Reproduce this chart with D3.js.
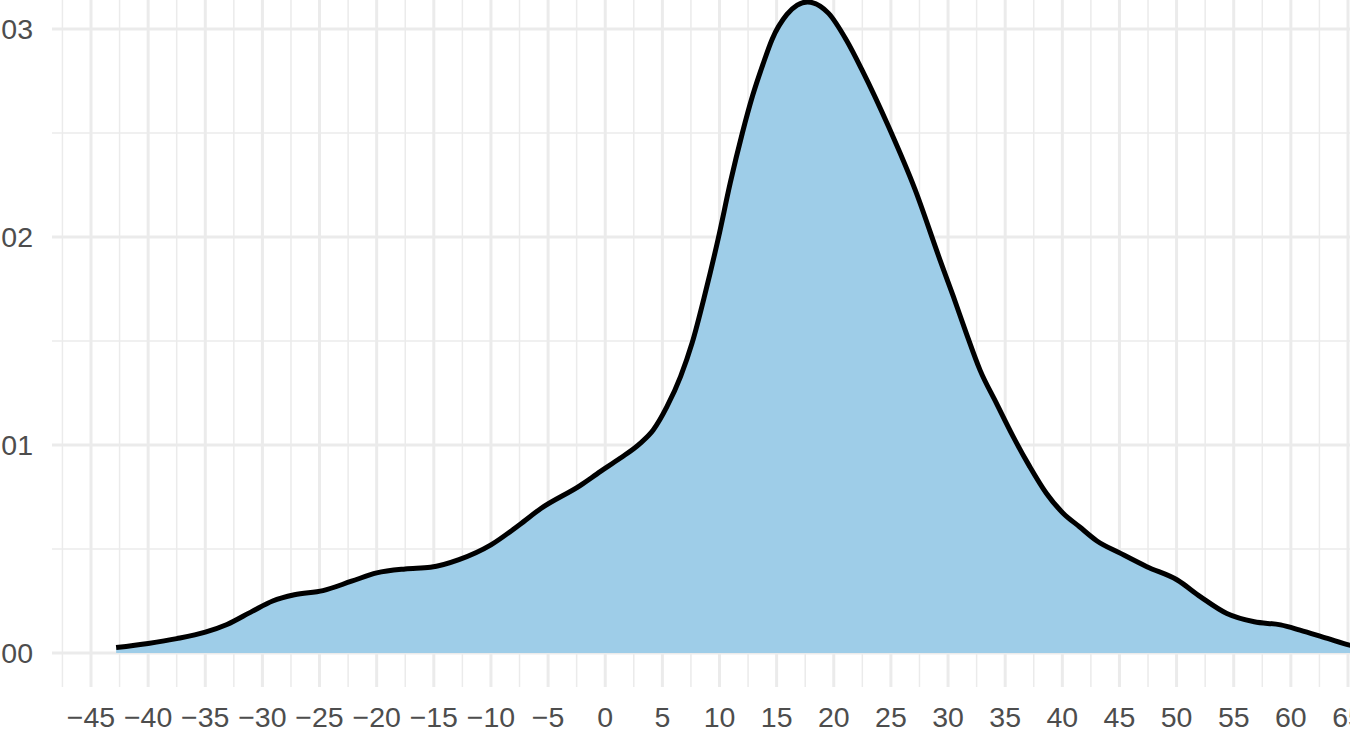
<!DOCTYPE html>
<html>
<head>
<meta charset="utf-8">
<script src="https://cdn.jsdelivr.net/npm/d3@7/dist/d3.min.js"></script>
<style>
  html, body { margin: 0; padding: 0; background: #fff; overflow: hidden; }
  svg { display: block; }
</style>
</head>
<body>
<svg id="chart" width="1350" height="733"></svg>
<script>
// density estimate (x value, density)
var xValues = [-42.8, -40, -37.5, -35, -33.1, -30.9, -29.1, -27.2, -24.7, -22.2, -20, -17.5, -15.3, -12.8, -10,
  -7.5, -5.6, -2.2, -0.44, 1.3, 3.06, 4.2, 5.4, 6.6, 7.6, 8.75, 9.92, 10.94, 12.0, 12.9, 13.8, 14.6, 15.9, 16.8, 17.7,
  18.8, 19.55, 21.1, 22.5, 24.8, 27.1, 29.3, 30.47, 31.6, 32.8, 34.24, 35.7, 37.15, 38.6, 40.07, 41.5, 43.0, 45.1,
  47.4, 50.06, 52.1, 54.4, 56.8, 59.1, 60.8, 63.2, 65.3, 66.5];
var densValues = [0.00026, 0.00046, 0.00069, 0.0010, 0.00137, 0.0020, 0.0025, 0.0028, 0.0030, 0.00345, 0.00385, 0.00404, 0.00412, 0.00449, 0.0052,
  0.00617, 0.00696, 0.00805, 0.00872, 0.00936, 0.01008, 0.01072, 0.01184, 0.0133, 0.0149, 0.0173, 0.0200, 0.0226, 0.0250, 0.0268, 0.0283, 0.0295, 0.0307, 0.03115, 0.0313,
  0.0311, 0.03075, 0.02947, 0.0280, 0.0253, 0.0223, 0.01889, 0.01713, 0.01537, 0.0136, 0.0120, 0.0104, 0.00896, 0.00768, 0.00672, 0.00607, 0.00540, 0.00479,
  0.00415, 0.00351, 0.0027, 0.0019, 0.0015, 0.00135, 0.0011, 0.0007, 0.00036, 0.00028];

var xTicks = [-45, -40, -35, -30, -25, -20, -15, -10, -5, 0, 5, 10, 15, 20, 25, 30, 35, 40, 45, 50, 55, 60, 65];
var xMinor = [-47.5, -42.5, -37.5, -32.5, -27.5, -22.5, -17.5, -12.5, -7.5, -2.5, 2.5, 7.5, 12.5, 17.5, 22.5,
  27.5, 32.5, 37.5, 42.5, 47.5, 52.5, 57.5, 62.5];
var yTicks = [0, 0.01, 0.02, 0.03];
var yTickLabels = ['0.00', '0.01', '0.02', '0.03'];
var yMinor = [0.005, 0.015, 0.025];

var svg = d3.select('#chart');
var panelLeft = 52, panelRight = 1350, panelTop = 0, panelBottom = 687;

var x = d3.scaleLinear().domain([-45, 65]).range([91, 1348]);
var y = d3.scaleLinear().domain([0, 0.03]).range([653, 29]);

var data = xValues.map(function (v, i) { return { x: v, d: densValues[i] }; });

var grid = svg.append('g').attr('class', 'grid');
// minor grid
grid.selectAll('.vminor').data(xMinor).enter().append('line')
  .attr('x1', function (d) { return x(d); }).attr('x2', function (d) { return x(d); })
  .attr('y1', panelTop).attr('y2', panelBottom)
  .style('stroke', '#ebebeb').style('stroke-width', 1.5);
grid.selectAll('.hminor').data(yMinor).enter().append('line')
  .attr('x1', panelLeft).attr('x2', panelRight)
  .attr('y1', function (d) { return y(d); }).attr('y2', function (d) { return y(d); })
  .style('stroke', '#ebebeb').style('stroke-width', 1.5);
// major grid
grid.selectAll('.vmajor').data(xTicks).enter().append('line')
  .attr('x1', function (d) { return x(d); }).attr('x2', function (d) { return x(d); })
  .attr('y1', panelTop).attr('y2', panelBottom)
  .style('stroke', '#ebebeb').style('stroke-width', 3);
grid.selectAll('.hmajor').data(yTicks).enter().append('line')
  .attr('x1', panelLeft).attr('x2', panelRight)
  .attr('y1', function (d) { return y(d); }).attr('y2', function (d) { return y(d); })
  .style('stroke', '#ebebeb').style('stroke-width', 3);

var area = d3.area()
  .x(function (d) { return x(d.x); })
  .y0(y(0))
  .y1(function (d) { return y(d.d); })
  .curve(d3.curveMonotoneX);
var line = d3.line()
  .x(function (d) { return x(d.x); })
  .y(function (d) { return y(d.d); })
  .curve(d3.curveMonotoneX);

svg.append('path').datum(data)
  .attr('d', area)
  .style('fill', '#9ecde8');
svg.append('path').datum(data)
  .attr('d', line)
  .style('fill', 'none')
  .style('stroke', '#000')
  .style('stroke-width', 5)
  .style('stroke-linejoin', 'round');

// axis labels
var font = '"Liberation Sans", Arial, Helvetica, sans-serif';
svg.append('g').selectAll('text').data(xTicks).enter().append('text')
  .attr('x', function (d) { return x(d); })
  .attr('y', 727)
  .attr('text-anchor', 'middle')
  .style('font-family', font).style('font-size', '28.5px').style('fill', '#4d4d4d')
  .text(function (d) { return d < 0 ? '\u2212' + Math.abs(d) : String(d); });
svg.append('g').selectAll('text').data(yTicks).enter().append('text')
  .attr('x', 33)
  .attr('y', function (d) { return y(d); })
  .attr('dy', '0.36em')
  .attr('text-anchor', 'end')
  .style('font-family', font).style('font-size', '28.5px').style('fill', '#4d4d4d')
  .text(function (d, i) { return yTickLabels[i]; });
</script>
</body>
</html>
